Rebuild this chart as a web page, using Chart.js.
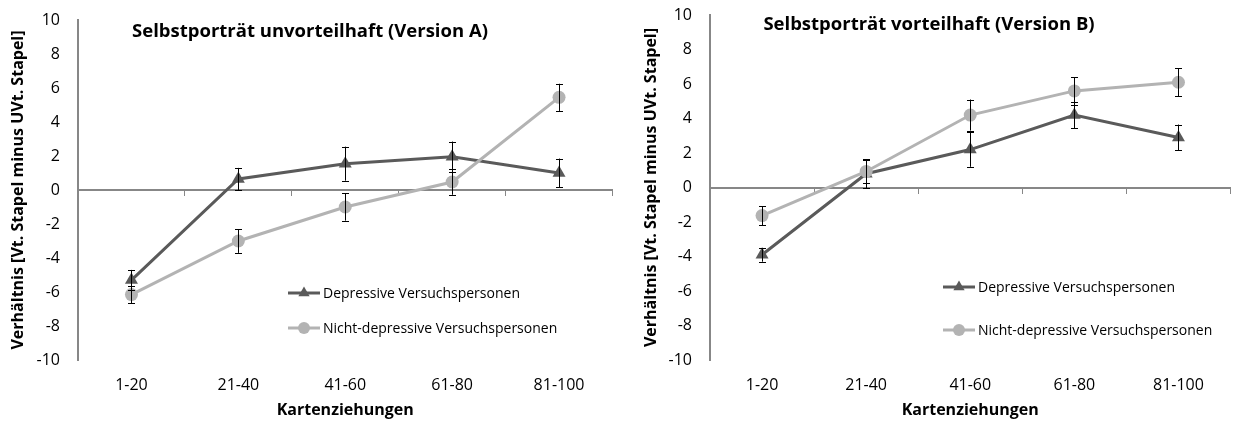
<!DOCTYPE html>
<html>
<head>
<meta charset="utf-8">
<script src="https://cdn.jsdelivr.net/npm/chart.js@4.4.1/dist/chart.umd.min.js"></script>
<style>
  html, body { margin: 0; padding: 0; background: #fff; }
  #wrap { position: relative; width: 1238px; height: 425px; }
  .box { position: absolute; top: 0; height: 425px; }
  #boxA { left: 0; width: 620px; }
  #boxB { left: 620px; width: 618px; }
</style>
</head>
<body>
<div id="wrap">
  <div class="box" id="boxA"><canvas id="chartA"></canvas></div>
  <div class="box" id="boxB"><canvas id="chartB"></canvas></div>
</div>
<script>
// ---- Data ----
const categories = ["1-20", "21-40", "41-60", "61-80", "81-100"];
const seriesNames = ["Depressive Versuchspersonen", "Nicht-depressive Versuchspersonen"];
const yTicks = [-10, -8, -6, -4, -2, 0, 2, 4, 6, 8, 10];

const titleA = "Selbstporträt unvorteilhaft (Version A)";
const depA = [-5.3, 0.65, 1.55, 1.95, 1.0];
const depAErr = [0.6, 0.65, 1.0, 0.9, 0.85];
const nonA = [-6.15, -3.0, -1.0, 0.47, 5.45];
const nonAErr = [0.5, 0.7, 0.8, 0.75, 0.8];

const titleB = "Selbstporträt vorteilhaft (Version B)";
const depB = [-3.9, 0.8, 2.2, 4.2, 2.9];
const depBErr = [0.4, 0.85, 1.0, 0.75, 0.75];
const nonB = [-1.63, 0.93, 4.2, 5.6, 6.1];
const nonBErr = [0.55, 0.65, 0.9, 0.8, 0.8];

const yTitle = "Verhältnis [Vt. Stapel minus UVt. Stapel]";
const xTitle = "Kartenziehungen";

// ---- Styles ----
const DARK = "#5a5a5a";
const LIGHT = "#b3b3b3";
const AXIS = "#878787";
const FONT = "'Open Sans', 'Noto Sans', sans-serif";

const errorBarPlugin = {
  id: "errorBars",
  afterDatasetsDraw(chart) {
    const ctx = chart.ctx;
    const ys = chart.scales.y;
    ctx.save();
    ctx.strokeStyle = "#000";
    ctx.lineWidth = 1;
    chart.data.datasets.forEach((ds, i) => {
      const meta = chart.getDatasetMeta(i);
      meta.data.forEach((pt, j) => {
        const v = ds.data[j], e = ds.errors[j];
        const x = Math.round(pt.x) + 0.5;
        const yt = ys.getPixelForValue(v + e);
        const yb = ys.getPixelForValue(v - e);
        ctx.beginPath();
        ctx.moveTo(x, yt); ctx.lineTo(x, yb);
        ctx.moveTo(x - 3.5, Math.round(yt) + 0.5); ctx.lineTo(x + 3.5, Math.round(yt) + 0.5);
        ctx.moveTo(x - 3.5, Math.round(yb) + 0.5); ctx.lineTo(x + 3.5, Math.round(yb) + 0.5);
        ctx.stroke();
      });
    });
    ctx.restore();
  }
};

const titlePlugin = {
  id: "customTitle",
  afterDraw(chart, args, opts) {
    const ctx = chart.ctx;
    ctx.save();
    ctx.font = "bold 18.5px " + FONT;
    ctx.fillStyle = "#000";
    ctx.textAlign = "center";
    ctx.textBaseline = "middle";
    ctx.fillText(opts.text, chart.width / 2, opts.y);
    ctx.restore();
  }
};

const legendPlugin = {
  id: "customLegend",
  afterDraw(chart, args, opts) {
    const ctx = chart.ctx;
    ctx.save();
    ctx.font = "14px " + FONT;
    ctx.textBaseline = "middle";
    ctx.textAlign = "left";
    opts.items.forEach((it, k) => {
      const y = opts.rows[k];
      const x0 = opts.x;
      ctx.strokeStyle = it.color;
      ctx.lineWidth = 3;
      ctx.beginPath();
      ctx.moveTo(x0, y); ctx.lineTo(x0 + 32, y);
      ctx.stroke();
      ctx.fillStyle = it.color;
      Chart.helpers.drawPoint(ctx, { pointStyle: it.style, radius: it.radius, borderWidth: 0 }, x0 + 16, y);
      ctx.fillStyle = "#000";
      ctx.fillText(it.label, x0 + 35, y + 1);
    });
    ctx.restore();
  }
};

function makeChart(id, title, dep, depErr, non, nonErr, geo) {
  const ctx = document.getElementById(id);
  return new Chart(ctx, {
    type: "line",
    data: {
      labels: categories,
      datasets: [
        {
          label: seriesNames[0], data: dep, errors: depErr, xAxisID: "x", yAxisID: "y",
          borderColor: DARK, backgroundColor: DARK, borderWidth: 3,
          pointStyle: "triangle", pointRadius: 7.5, pointBorderWidth: 0, pointBackgroundColor: DARK,
          order: 1, tension: 0
        },
        {
          label: seriesNames[1], data: non, errors: nonErr, xAxisID: "x", yAxisID: "y",
          borderColor: LIGHT, backgroundColor: LIGHT, borderWidth: 3,
          pointStyle: "circle", pointRadius: 6.5, pointBorderWidth: 0, pointBackgroundColor: LIGHT,
          order: 0, tension: 0
        }
      ]
    },
    options: {
      responsive: true,
      maintainAspectRatio: false,
      animation: false,
      events: [],
      layout: { padding: { left: 0, right: geo.padRight, top: geo.top, bottom: 0 } },
      plugins: {
        legend: { display: false },
        tooltip: { enabled: false },
        title: { display: false },
        customTitle: { text: title, y: geo.titleY },
        customLegend: geo.legend
      },
      scales: {
        x: {
          type: "category", position: "bottom", offset: true,
          grid: { display: false, drawTicks: false },
          border: { display: false },
          ticks: { color: "#000", font: { family: FONT, size: 16 }, padding: 16, maxRotation: 0 },
          title: { display: true, text: xTitle, color: "#000", font: { family: FONT, size: 16, weight: "bold", lineHeight: 1.2 }, padding: { top: 0, bottom: 5 } },
          afterFit(s) { s.height = 425 - geo.bottom; s.paddingLeft = 0; s.paddingRight = 0; }
        },
        x2: {
          type: "category", position: { y: 0 }, offset: true,
          grid: { display: true, drawOnChartArea: false, drawTicks: true, tickLength: 5, tickColor: AXIS, tickWidth: 1, offset: true },
          border: { display: true, color: AXIS, width: 2 },
          ticks: { display: false },
          afterFit(s) { s.height = 0; s.paddingLeft = 0; s.paddingRight = 0; }
        },
        y: {
          type: "linear", position: "left", min: -10, max: 10,
          afterBuildTicks(s) { s.ticks = yTicks.map(v => ({ value: v })); },
          grid: { display: false, drawTicks: false },
          border: { display: true, color: AXIS, width: 2 },
          ticks: { color: "#000", font: { family: FONT, size: 16 }, padding: 18 },
          title: { display: true, text: yTitle, color: "#000", font: { family: FONT, size: 16, weight: "bold", lineHeight: 1.2 }, padding: { top: geo.yTitlePad, bottom: 0 } },
          afterFit(s) { s.width = geo.left; s.paddingTop = 0; s.paddingBottom = 0; }
        }
      }
    },
    plugins: [errorBarPlugin, titlePlugin, legendPlugin]
  });
}

makeChart("chartA", titleA, depA, depAErr, nonA, nonAErr, {
  left: 78, padRight: 3, top: 20, bottom: 360, titleY: 32, yTitlePad: 9,
  legend: {
    x: 288, rows: [293, 328],
    items: [
      { label: seriesNames[0], color: DARK, style: "triangle", radius: 6.5 },
      { label: seriesNames[1], color: LIGHT, style: "circle", radius: 6 }
    ]
  }
});

makeChart("chartB", titleB, depB, depBErr, nonB, nonBErr, {
  left: 90, padRight: 0, top: 15, bottom: 360, titleY: 25, yTitlePad: 22,
  legend: {
    x: 323, rows: [287, 330],
    items: [
      { label: seriesNames[0], color: DARK, style: "triangle", radius: 6.5 },
      { label: seriesNames[1], color: LIGHT, style: "circle", radius: 6 }
    ]
  }
});
</script>
</body>
</html>
